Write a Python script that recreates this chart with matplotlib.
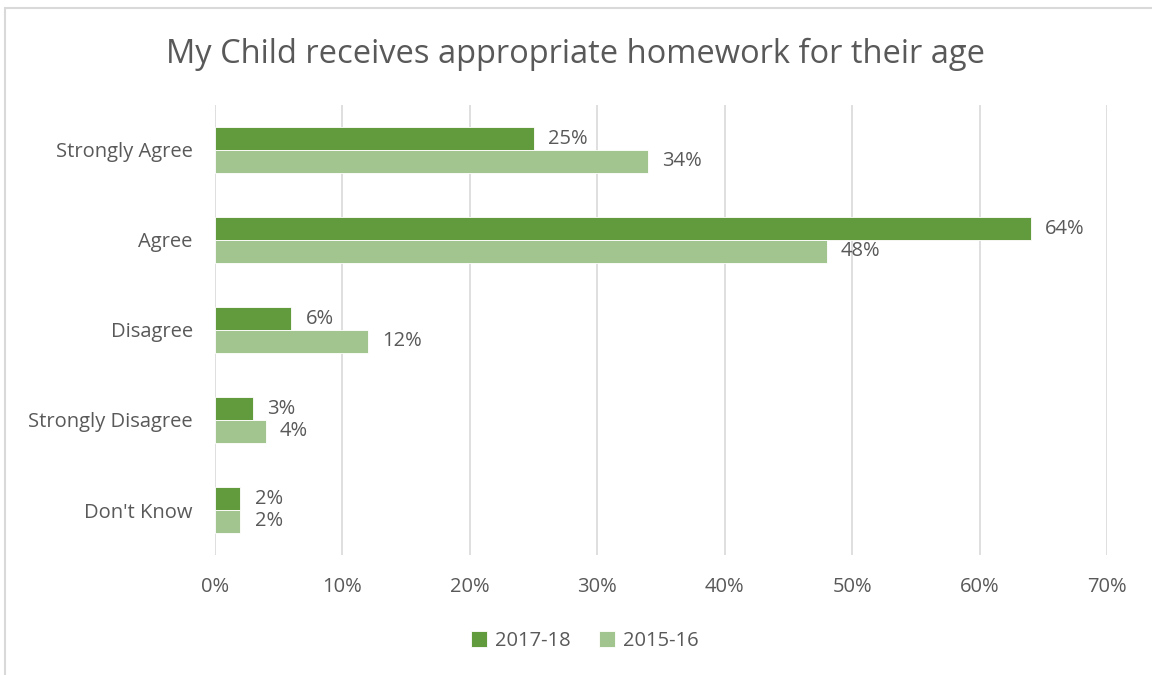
import matplotlib.pyplot as plt
import numpy as np
from matplotlib.patches import Rectangle

categories = ["Strongly Agree", "Agree", "Disagree", "Strongly Disagree", "Don't Know"]
series_names = ["2017-18", "2015-16"]
values_2017 = [25, 64, 6, 3, 2]
values_2015 = [34, 48, 12, 4, 2]
x_ticks = [0, 10, 20, 30, 40, 50, 60, 70]

dark = "#629A3E"
light = "#A2C58F"
txt = "#595959"

plt.rcParams["font.family"] = ["Open Sans", "DejaVu Sans"]

fig = plt.figure(figsize=(11.52, 6.75), dpi=100)
ax = fig.add_axes([215 / 1152, 1 - 555 / 675, (1107 - 215) / 1152, 450 / 675])

# light chart frame
fig.patches.append(Rectangle((4.5 / 1152, -0.05), 1.2, 1 - 7.5 / 675 + 0.05,
                             transform=fig.transFigure, fill=False,
                             edgecolor="#D9D9D9", linewidth=1.5))

y = np.arange(len(categories))
h = 0.255
b1 = ax.barh(y - h / 2, values_2017, height=h, color=dark, edgecolor="white",
             linewidth=0.6, label=series_names[0], zorder=3)
b2 = ax.barh(y + h / 2, values_2015, height=h, color=light, edgecolor="white",
             linewidth=0.6, label=series_names[1], zorder=3)

for bars, vals in ((b1, values_2017), (b2, values_2015)):
    for bar, v in zip(bars, vals):
        ax.text(v + 1.1, bar.get_y() + bar.get_height() / 2, f"{v}%",
                va="center", ha="left", fontsize=14.5, color=txt)

ax.set_xlim(0, 70)
ax.set_ylim(len(categories) - 0.5, -0.5)
ax.set_xticks(x_ticks)
ax.set_xticklabels([f"{t}%" for t in x_ticks])
ax.set_yticks(y)
ax.set_yticklabels(categories)
ax.tick_params(axis="both", length=0, labelsize=14.5, colors=txt)
ax.tick_params(axis="x", pad=16)
ax.tick_params(axis="y", pad=16)
ax.grid(axis="x", color="#D9D9D9", linewidth=1.2, zorder=0)
for s in ax.spines.values():
    s.set_visible(False)

fig.text(0.5, 1 - 54 / 675, "My Child receives appropriate homework for their age",
         ha="center", va="center", fontsize=23.5, color=txt)

fig.legend(handles=[b1, b2], labels=series_names, loc="center",
           bbox_to_anchor=(0.5 + 9 / 1152, 1 - 641 / 675), ncol=2, frameon=False,
           fontsize=14.5, labelcolor=txt, handlelength=0.8, handleheight=0.8,
           handletextpad=0.4, columnspacing=1.4)

fig.savefig("out.png", dpi=100)
